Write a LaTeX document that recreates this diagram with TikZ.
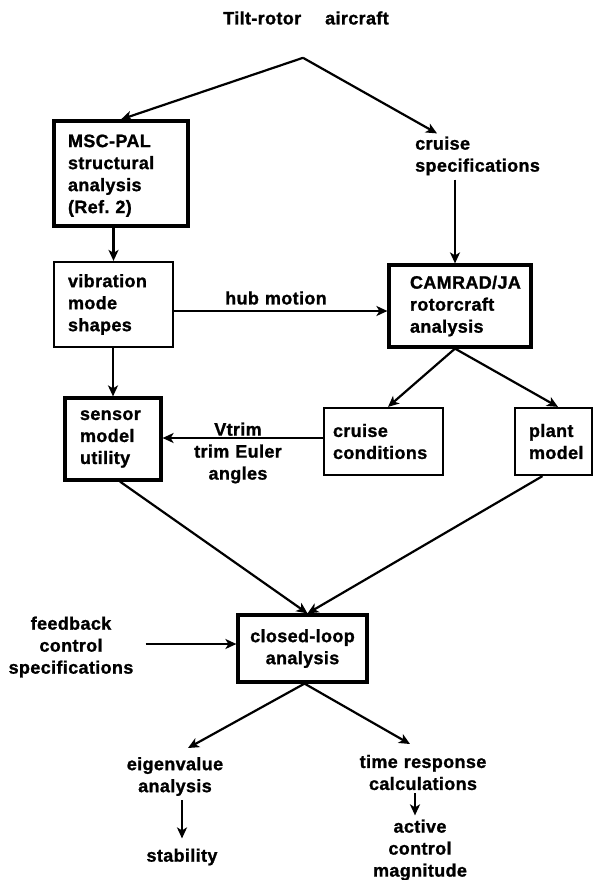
\documentclass[tikz,border=0pt]{standalone}
\usepackage{fontspec}
\setmainfont{Liberation Sans}[LetterSpace=2, BoldFeatures={FakeBold=1.2}]
\usetikzlibrary{arrows.meta,calc}
\begin{document}
\begin{tikzpicture}[x=1pt,y=-1pt,
  every node/.style={font=\bfseries\fontsize{18}{22}\selectfont},
  boxthick/.style={draw, line width=3.2pt, align=left, inner ysep=0pt},
  boxthin/.style={draw, line width=2.2pt, align=left, inner ysep=0pt},
  freetext/.style={align=center, inner sep=0pt},
  arr/.style={-{Stealth[length=11pt,width=10pt,inset=3pt]}, line width=2.2pt},
  plain/.style={line width=2.2pt}]
\useasboundingbox (0,0) rectangle (603,880);

% text nodes
\node[freetext] (title) at (306,18) {Tilt-rotor\hspace{24pt}aircraft};
\node[freetext, align=left, anchor=west] (cs) at (415,156) {cruise\\specifications};

% boxes
\node[boxthick, minimum width=134pt, minimum height=105pt, text width=106pt, inner xsep=14pt] (msc) at (121,173.5) {\rule{0pt}{17pt}MSC-PAL\\structural\\analysis\\(Ref.\ 2)};
\node[boxthin, minimum width=119pt, minimum height=85pt, text width=91pt, inner xsep=14pt] (vib) at (113.5,304.5) {vibration\\mode\\shapes};
\node[boxthick, minimum width=142pt, minimum height=82pt, text width=100pt, inner xsep=21pt] (camrad) at (460,306) {CAMRAD/JA\\rotorcraft\\analysis};
\node[boxthick, minimum width=96pt, minimum height=82pt, text width=66pt, inner xsep=15pt] (sensor) at (113,439) {sensor\\model\\utility};
\node[boxthin, minimum width=119pt, minimum height=67pt, text width=101pt, inner xsep=9pt] (cc) at (383.5,441.5) {cruise\\conditions};
\node[boxthin, minimum width=77pt, minimum height=67pt, text width=49pt, inner xsep=14pt] (plant) at (553.5,441.5) {plant\\model};
\node[boxthick, minimum width=129pt, minimum height=67pt, align=center, inner ysep=0pt] (closed) at (302.5,648.5) {closed-loop\\analysis};

% free labels
\node[freetext] (hub) at (276,298) {hub\hspace{6pt}motion};
\node[freetext] (vtrim) at (238,453) {Vtrim\\trim\hspace{6pt}Euler\\angles};
\node[freetext] (fb) at (71,647) {feedback\\control\\specifications};
\node[freetext] (eig) at (175,776.5) {eigenvalue\\analysis};
\node[freetext] (stab) at (182,857) {stability};
\node[freetext] (time) at (423,772.5) {time\hspace{6pt}response\\calculations};
\node[freetext] (act) at (420,850) {active\\control\\magnitude};

% coordinates
\coordinate (apex) at ($(title.south)+(-3,33)$);
\coordinate (csin) at ($(cs.north west)+(22,-3)$);
\coordinate (cin) at ($(camrad.north)+(-5,0)$);
\coordinate (cout) at ($(camrad.south)+(-5,0)$);
\coordinate (hm) at (0,311);
\coordinate (vt) at (0,438);
\coordinate (cl) at ($(closed.north)+(5,0)$);
\coordinate (fbl) at (0,644);
\coordinate (clo) at ($(closed.south)+(2,0)$);

% connectors
\draw[arr] (apex) -- (msc.north);
\draw[arr] (apex) -- (csin);
\draw[arr] ($(cs.south -| cin)+(0,4)$) -- (cin);
\draw[arr] (msc.south -| vib.north) -- (vib.north);
\draw[arr] (vib.east |- hm) -- (camrad.west |- hm);
\draw[arr] (vib.south -| sensor.north) -- (sensor.north);
\draw[arr] (cout) -- ($(cc.north)+(4.5,0)$);
\draw[arr] (cout) -- ($(plant.north)+(4.5,0)$);
\draw[arr] (cc.west |- vt) -- (sensor.east |- vt);
\draw[arr] ($(sensor.south)+(7,0)$) -- (cl);
\draw[arr] ($(plant.south)+(-11,0)$) -- (cl);
\draw[arr] ($(fb.east |- fbl)+(12,0)$) -- (closed.west |- fbl);
\draw[arr] (clo) -- (188,748);
\draw[arr] (clo) -- (410,744);
\draw[arr] (eig.south -| stab.north) ++(0,4) -- ($(stab.north)+(0,-10)$);
\draw[arr] ($(time.south)+(-8,3)$) -- ($(act.north)+(-5,-4)$);
\end{tikzpicture}
\end{document}
